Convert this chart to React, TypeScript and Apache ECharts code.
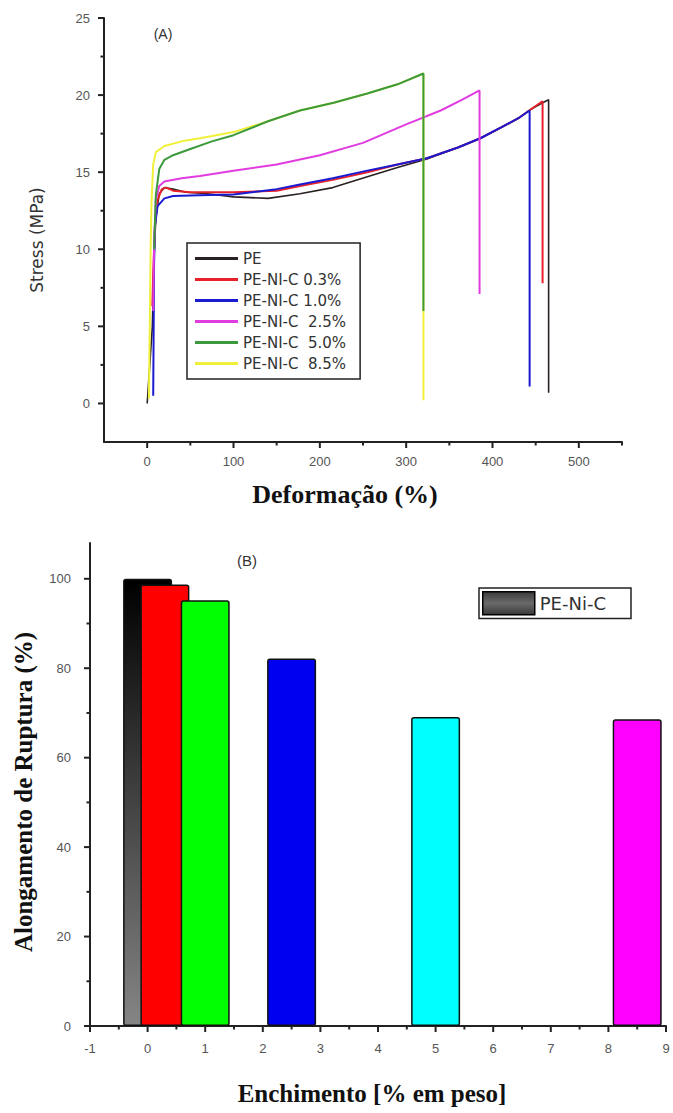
import { useEffect, useRef } from "react";
import * as echarts from "echarts";

// ---- Panel A: stress-strain curves [strain %, stress MPa] ----
const curvePE: number[][] = [
  [0, 0], [1, 0.8], [6, 5], [8, 9.5], [10, 12], [14, 13.6], [20, 14.0], [30, 13.9], [45, 13.7],
  [70, 13.6], [100, 13.4], [140, 13.3], [177, 13.6], [215, 14.0], [255, 14.7], [290, 15.3],
  [324, 15.85], [360, 16.6], [386, 17.2], [410, 17.9], [430, 18.5], [445, 19.1], [458, 19.5],
  [465, 19.7], [465, 0.7],
];
const curve03: number[][] = [
  [6, 6.3], [7, 8.5], [9, 11.5], [12, 13.2], [17, 13.9], [22, 14.0], [30, 13.8], [50, 13.7],
  [100, 13.7], [150, 13.8], [177, 14.1], [215, 14.5], [255, 15.0], [290, 15.5], [324, 15.9],
  [360, 16.6], [386, 17.2], [410, 17.9], [430, 18.5], [445, 19.1], [458, 19.6], [458, 7.8],
];
const curve10: number[][] = [
  [7, 0.5], [8, 9], [9, 11.5], [12, 12.8], [20, 13.3], [30, 13.45], [60, 13.5], [100, 13.55],
  [150, 13.9], [177, 14.2], [215, 14.6], [255, 15.1], [290, 15.5], [324, 15.9], [360, 16.6],
  [386, 17.2], [410, 17.9], [430, 18.5], [443, 19.0], [443, 1.1],
];
const curve25: number[][] = [
  [7, 6], [8, 10], [10, 13.2], [14, 14.1], [20, 14.4], [40, 14.6], [61, 14.75], [100, 15.1],
  [150, 15.5], [200, 16.1], [250, 16.9], [300, 18.1], [340, 19.0], [365, 19.7], [385, 20.3],
  [385, 7.1],
];
const curve50: number[][] = [
  [8, 10], [10, 13.5], [14, 15.2], [20, 15.8], [30, 16.1], [50, 16.5], [75, 17.0], [100, 17.4],
  [140, 18.3], [177, 19.0], [216, 19.5], [255, 20.1], [290, 20.7], [320, 21.4], [320, 6.0],
];
const curve85: number[][] = [
  [2, 0.3], [3, 5], [4, 10], [5, 13], [7, 15.5], [10, 16.3], [20, 16.7], [40, 17.0], [61, 17.2],
  [80, 17.4], [100, 17.6], [140, 18.3], [177, 19.0], [216, 19.5], [255, 20.1], [290, 20.7],
  [320, 21.4], [320, 0.2],
];
const curveNames = ["PE", "PE-NI-C 0.3%", "PE-NI-C 1.0%", "PE-NI-C  2.5%", "PE-NI-C  5.0%", "PE-NI-C  8.5%"];
const curveColors = ["#2a2222", "#e8202a", "#1a1ad0", "#e03ce0", "#3c9a3c", "#f0f03a"];

// tick values
const xTicksA = [0, 100, 200, 300, 400, 500];
const xMinorA = [50, 150, 250, 350, 450, 550];
const yTicksA = [0, 5, 10, 15, 20, 25];
const yMinorA = [2.5, 7.5, 12.5, 17.5, 22.5];

// ---- Panel B: elongation at break ----
const fillerContent = [0, 0.3, 1.0, 2.5, 5.0, 8.5];
const elongation = [100, 98.7, 95.2, 82.2, 69.1, 68.6];
const xTicksB = [-1, 0, 1, 2, 3, 4, 5, 6, 7, 8, 9];
const xMinorB = [-0.5, 0.5, 1.5, 2.5, 3.5, 4.5, 5.5, 6.5, 7.5, 8.5];
const yTicksB = [0, 20, 40, 60, 80, 100];
const yMinorB = [10, 30, 50, 70, 90];

export default function App() {
  const ref = useRef<HTMLDivElement>(null);
  useEffect(() => {
    if (!ref.current) return;
    const chart = echarts.init(ref.current, undefined, { renderer: "svg" });
    const axisCol = "#222";
    const labelStyle = { color: "#555", fontSize: 13, fontFamily: "Liberation Sans" };

    const blackGrad = new echarts.graphic.LinearGradient(0, 0, 0, 1, [
      { offset: 0, color: "#000000" },
      { offset: 1, color: "#858585" },
    ]);
    const legendGrad = new echarts.graphic.LinearGradient(0, 0, 0, 1, [
      { offset: 0, color: "#3a3a3a" },
      { offset: 0.5, color: "#6a6a6a" },
      { offset: 1, color: "#3a3a3a" },
    ]);
    const barColors = [blackGrad, "#ff0000", "#00ff00", "#0000f0", "#00ffff", "#ff00ff"];

    const curves = [curvePE, curve03, curve10, curve25, curve85, curve50];
    const curveIdx = [0, 1, 2, 3, 5, 4];
    const lineSeries = curves.map((d, i) => ({
      type: "line",
      name: curveNames[curveIdx[i]],
      data: d,
      xAxisIndex: 0,
      yAxisIndex: 0,
      symbol: "none",
      lineStyle: { color: curveColors[curveIdx[i]], width: curveIdx[i] === 0 ? 1.6 : 2 },
      itemStyle: { color: curveColors[curveIdx[i]] },
    }));

    // axis tick marks drawn through the axes' own scales
    const xTickSeries = (axis: number, vals: number[], yBase: number, len: number) => ({
      type: "custom",
      xAxisIndex: axis,
      yAxisIndex: axis,
      silent: true,
      clip: false,
      z: 10,
      data: vals.map((v) => [v, yBase]),
      renderItem: (_p: any, api: any) => {
        const pt = api.coord([api.value(0), api.value(1)]);
        return {
          type: "line",
          shape: { x1: pt[0], y1: pt[1], x2: pt[0], y2: pt[1] + len },
          style: { stroke: axisCol, lineWidth: 2 },
        };
      },
    });
    const yTickSeries = (axis: number, vals: number[], xBase: number, len: number) => ({
      type: "custom",
      xAxisIndex: axis,
      yAxisIndex: axis,
      silent: true,
      clip: false,
      z: 10,
      data: vals.map((v) => [xBase, v]),
      renderItem: (_p: any, api: any) => {
        const pt = api.coord([api.value(0), api.value(1)]);
        return {
          type: "line",
          shape: { x1: pt[0], y1: pt[1], x2: pt[0] - len, y2: pt[1] },
          style: { stroke: axisCol, lineWidth: 2 },
        };
      },
    });

    const mkAxis = (pos: string, grid: number, min: number, max: number, interval: number, labelStep: number, labelMax: number, margin: number) => ({
      type: "value", gridIndex: grid, min, max, interval, position: pos,
      axisLine: { show: true, onZero: false, lineStyle: { color: axisCol, width: 2 } },
      axisTick: { show: false },
      axisLabel: {
        show: true, margin, ...labelStyle,
        formatter: (v: number) => {
          const r = Math.round(v / labelStep);
          return Math.abs(r * labelStep - v) < 1e-6 && v <= labelMax && (v >= 0 || labelStep === 1) ? String(v) : "";
        },
      },
      splitLine: { show: false },
    });

    const centered = { align: "center", verticalAlign: "middle", textAlign: "center", textVerticalAlign: "middle" };

    chart.setOption({
      animation: false,
      backgroundColor: "#ffffff",
      grid: [
        { left: 104, top: 18, width: 518, height: 424 },
        { left: 90, top: 543, width: 576, height: 483 },
      ],
      xAxis: [
        mkAxis("bottom", 0, -50, 550, 50, 100, 500, 13),
        mkAxis("bottom", 1, -1, 9, 0.5, 1, 9, 16),
      ],
      yAxis: [
        mkAxis("left", 0, -2.5, 25, 2.5, 5, 25, 14),
        mkAxis("left", 1, 0, 108, 10, 20, 100, 19),
      ],
      legend: [
        {
          data: curveNames,
          orient: "vertical",
          left: 187,
          top: 243,
          icon: "rect",
          itemWidth: 43,
          itemHeight: 3,
          itemGap: 6,
          itemTextGap: 5,
          padding: [8, 14, 8, 8],
          borderColor: "#222",
          borderWidth: 1.5,
          textStyle: { color: "#333", fontSize: 15, fontFamily: "DejaVu Sans" },
          selectedMode: false,
        },
        {
          data: [
            {
              name: "PE-Ni-C",
              icon: "rect",
              itemStyle: { color: legendGrad, borderColor: "#000", borderWidth: 1.5 },
            },
          ],
          left: 479,
          top: 588,
          itemWidth: 52,
          itemHeight: 23,
          itemTextGap: 5,
          padding: [3, 25, 3, 3],
          borderColor: "#222",
          borderWidth: 1.5,
          textStyle: { color: "#333", fontSize: 18, fontFamily: "DejaVu Sans" },
          selectedMode: false,
        },
      ],
      series: [
        ...lineSeries,
        {
          type: "bar",
          name: "PE-Ni-C",
          xAxisIndex: 1,
          yAxisIndex: 1,
          barWidth: 49,
          data: fillerContent.map((x, i) => ({
            value: [x, elongation[i]],
            itemStyle: { color: barColors[i], borderColor: "#111", borderWidth: 1.5, borderRadius: 2 },
          })),
          itemStyle: { color: "#555" },
        },
        xTickSeries(0, xTicksA, -2.5, 6),
        xTickSeries(0, xMinorA, -2.5, 3.5),
        yTickSeries(0, yTicksA, -50, 6),
        yTickSeries(0, yMinorA, -50, 3.5),
        xTickSeries(1, xTicksB, 0, 6),
        xTickSeries(1, xMinorB, 0, 3.5),
        yTickSeries(1, yTicksB, -1, 6),
        yTickSeries(1, yMinorB, -1, 3.5),
      ],
      graphic: [
        { type: "text", x: 163, y: 34, style: { text: "(A)", font: '14px "Liberation Sans"', fill: "#333", ...centered } },
        { type: "text", x: 247, y: 560, style: { text: "(B)", font: '15px "Liberation Sans"', fill: "#333", ...centered } },
        { type: "text", x: 345, y: 494, style: { text: "Deformação (%)", font: 'bold 26px "Liberation Serif"', fill: "#111", ...centered } },
        { type: "text", x: 37, y: 240, rotation: Math.PI / 2, style: { text: "Stress (MPa)", font: '17px "DejaVu Sans"', fill: "#333", ...centered } },
        { type: "text", x: 372, y: 1093, style: { text: "Enchimento [% em peso]", font: 'bold 25px "Liberation Serif"', fill: "#111", ...centered } },
        { type: "text", x: 23, y: 792, rotation: Math.PI / 2, style: { text: "Alongamento de Ruptura (%)", font: 'bold 25px "Liberation Serif"', fill: "#111", ...centered } },
      ],
    });
    return () => chart.dispose();
  }, []);
  return (
    <div
      ref={ref}
      style={{ position: "fixed", left: 0, top: 0, width: 673, height: 1113, background: "#fff" }}
    />
  );
}
